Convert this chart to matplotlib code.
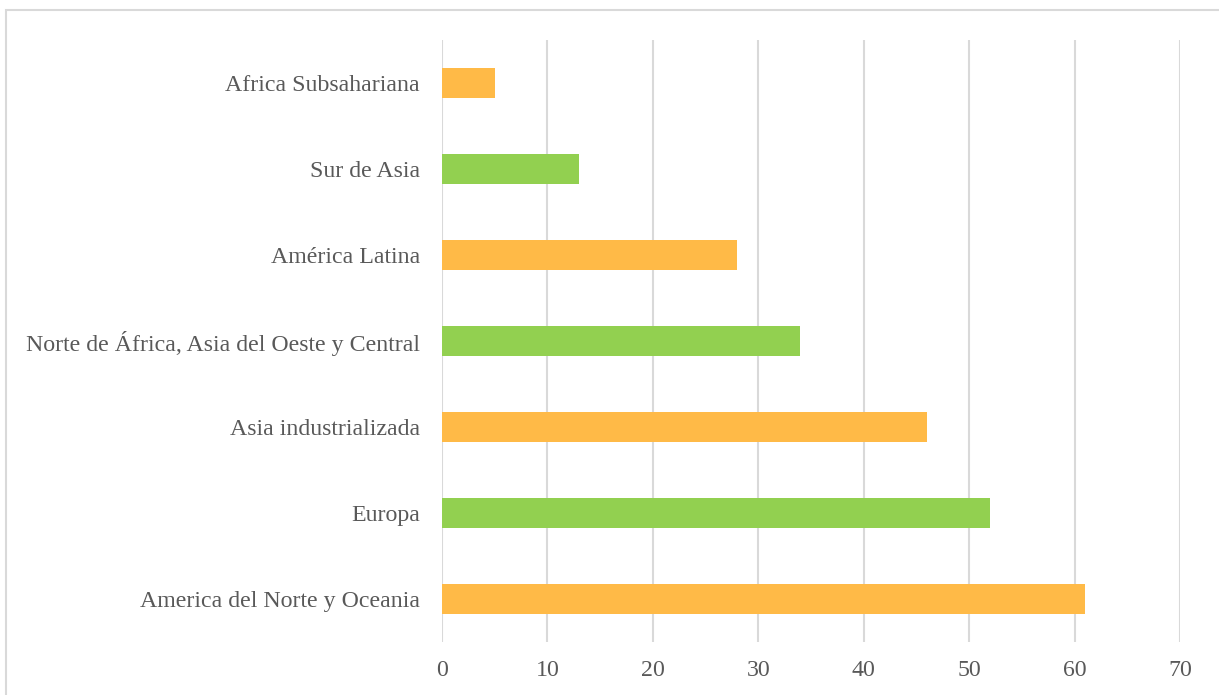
import matplotlib.pyplot as plt
from matplotlib.patches import Rectangle

regions = ["America del Norte y Oceania", "Europa", "Asia industrializada",
           "Norte de África, Asia del Oeste y Central", "América Latina",
           "Sur de Asia", "Africa Subsahariana"]
values = [61, 52, 46, 34, 28, 13, 5]
colors = ["#FFBA47", "#92D050", "#FFBA47", "#92D050", "#FFBA47", "#92D050", "#FFBA47"]

plt.rcParams["font.family"] = "Liberation Serif"

fig = plt.figure(figsize=(12.19, 6.95), dpi=100)
ax = fig.add_axes([442 / 1219, 1 - 642 / 695, (1180 - 442) / 1219, (642 - 40) / 695])

ax.barh(range(len(regions)), values, height=0.36, color=colors, zorder=3)

ax.set_xlim(0, 70)
ax.set_ylim(-0.5, len(regions) - 0.5)
ax.set_xticks(range(0, 71, 10))
ax.set_yticks(range(len(regions)))
ax.set_yticklabels(regions)
ax.tick_params(axis="both", length=0, labelsize=17.2, colors="#595959")
ax.tick_params(axis="y", pad=16)
ax.tick_params(axis="x", pad=13)
ax.grid(axis="x", color="#D9D9D9", linewidth=1.5, zorder=0)
for s in ax.spines.values():
    s.set_visible(False)

# outer frame of the chart area
fig.patches.append(Rectangle((6 / 1219, -0.01), 1.02, 1 - 10 / 695 + 0.01,
                             transform=fig.transFigure, fill=False,
                             edgecolor="#D9D9D9", linewidth=1.5))

fig.savefig("out.png", dpi=100)
